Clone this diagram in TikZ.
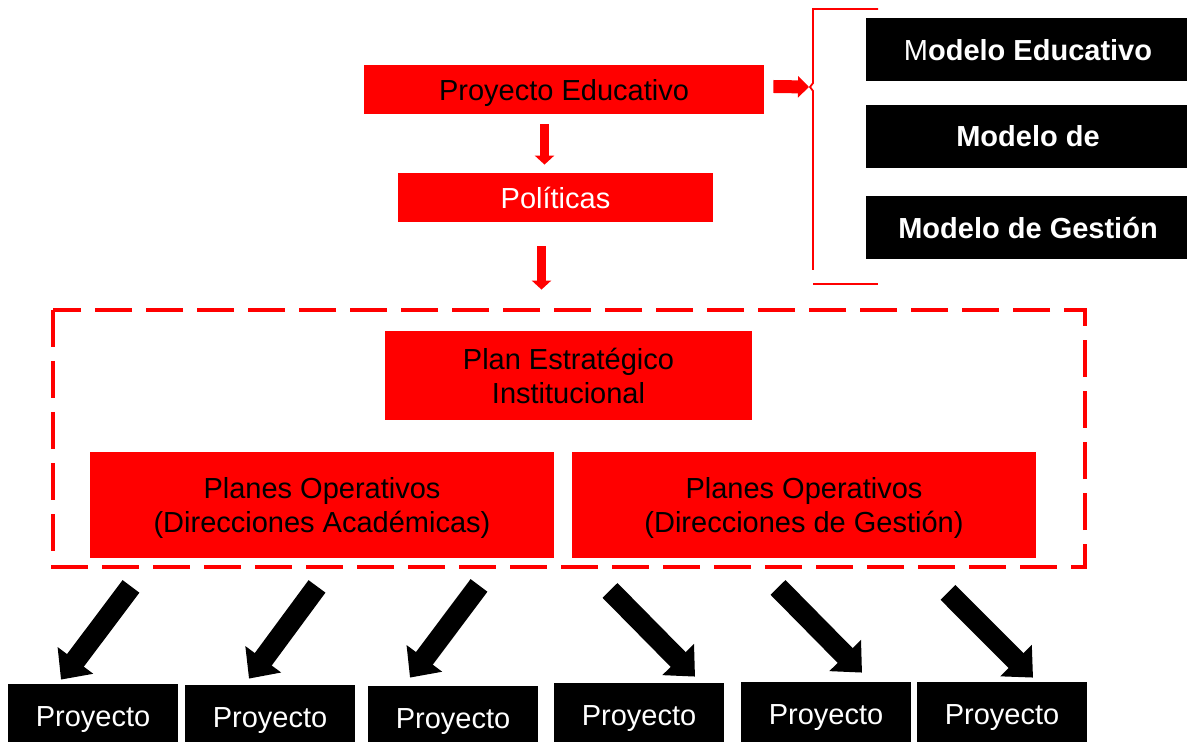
\documentclass[tikz,border=0pt]{standalone}
\usepackage{fontspec}
\setmainfont{Liberation Sans}
\usetikzlibrary{arrows.meta}
\definecolor{rojo}{HTML}{FF0000}

\begin{document}
\begin{tikzpicture}[x=0.5pt,y=-0.5pt,
		caja/.style={fill=rojo,inner sep=0pt,text depth=0pt,align=center,font=\fontsize{14.5}{17}\selectfont},
		modelo/.style={fill=black,text=white,inner sep=0pt,minimum width=162pt,minimum height=31.5pt,font=\bfseries\fontsize{14.5}{17}\selectfont},
		proj/.style={fill=black,text=white,inner sep=0pt,text depth=0pt,minimum width=85pt,minimum height=33pt,font=\fontsize{14.5}{17}\selectfont},
		flecha/.style={rojo,line width=4.5pt,-{Triangle[width=9.5pt,length=4.5pt]}},
		lado/.style={rojo,line width=6.5pt,-{Triangle[width=10.5pt,length=5.5pt]}},
		bajada/.style={black,line width=10.5pt,-{Triangle[width=21.5pt,length=12pt]}}]
		\useasboundingbox (0,0) rectangle (1187,742);
		\newcommand{\proyecto}[2]{\node[proj] (p#1) at (#2) {Proyecto};}
		\newcommand{\bajada}[4]{\draw[bajada] ([shift={(#3)}]#2.south) -- ([shift={(#4)}]p#1.north);}
		
		\node[caja,minimum width=200pt,minimum height=24.5pt] (proy) at (564,89.5) {Proyecto Educativo};
		\node[caja,text=white,minimum width=157.5pt,minimum height=24.5pt] (pol) at (555.5,197.5) {Políticas};
		\node[caja,minimum width=183.5pt,minimum height=44.5pt] (plan) at (568.5,375.5) {Plan Estratégico\\Institucional};
		\node[caja,minimum width=232pt,minimum height=53pt] (opa) at (322,505) {Planes Operativos\\(Direcciones Académicas)};
		\node[caja,minimum width=232pt,minimum height=53pt] (opg) at (804,505) {Planes Operativos\\(Direcciones de Gestión)};
		
		\node[modelo] (me) at (1028,50) {\textmd{M}odelo Educativo};
		\node[modelo] (md) at (1028,136.5) {Modelo de};
		\node[modelo] (mg) at (1028,228) {Modelo de Gestión};
		
		\coordinate (llave) at (810,87);
		\draw[rojo,line width=0.9pt] (878,9) -- (813,9) -- (813,83) -- (llave) -- (813,91) -- (813,270);
		\draw[rojo,line width=0.9pt] (813,284) -- (878,284);
		
		\draw[lado] ([shift={(9,-3)}]proy.east) -- ([shift={(-1,0)}]llave);
		\draw[flecha] ([shift={(-19.5,10)}]proy.south) -- ([shift={(-11,-8)}]pol.north);
		\draw[flecha] ([shift={(-14,24)}]pol.south) -- ([shift={(-27,-41)}]plan.north);
		
		\draw[rojo,line width=2pt,dash pattern=on 18.5pt off 7pt] (53,310) rectangle (1085,567);
		
		\proyecto{1}{93,717}
		\proyecto{2}{270,718}
		\proyecto{3}{453,719}
		\proyecto{4}{639,716}
		\proyecto{5}{826,715}
		\proyecto{6}{1002,715}
		
		\bajada{1}{opa}{-191,28}{-32,-4}
		\bajada{2}{opa}{-5,28}{-21,-6}
		\bajada{3}{opa}{157,27}{-43,-8}
		\bajada{4}{opg}{-194,32}{56,-6}
		\bajada{5}{opg}{-26,29}{36,-9}
		\bajada{6}{opg}{144,34}{31,-4}
	\end{tikzpicture}
\end{document}
